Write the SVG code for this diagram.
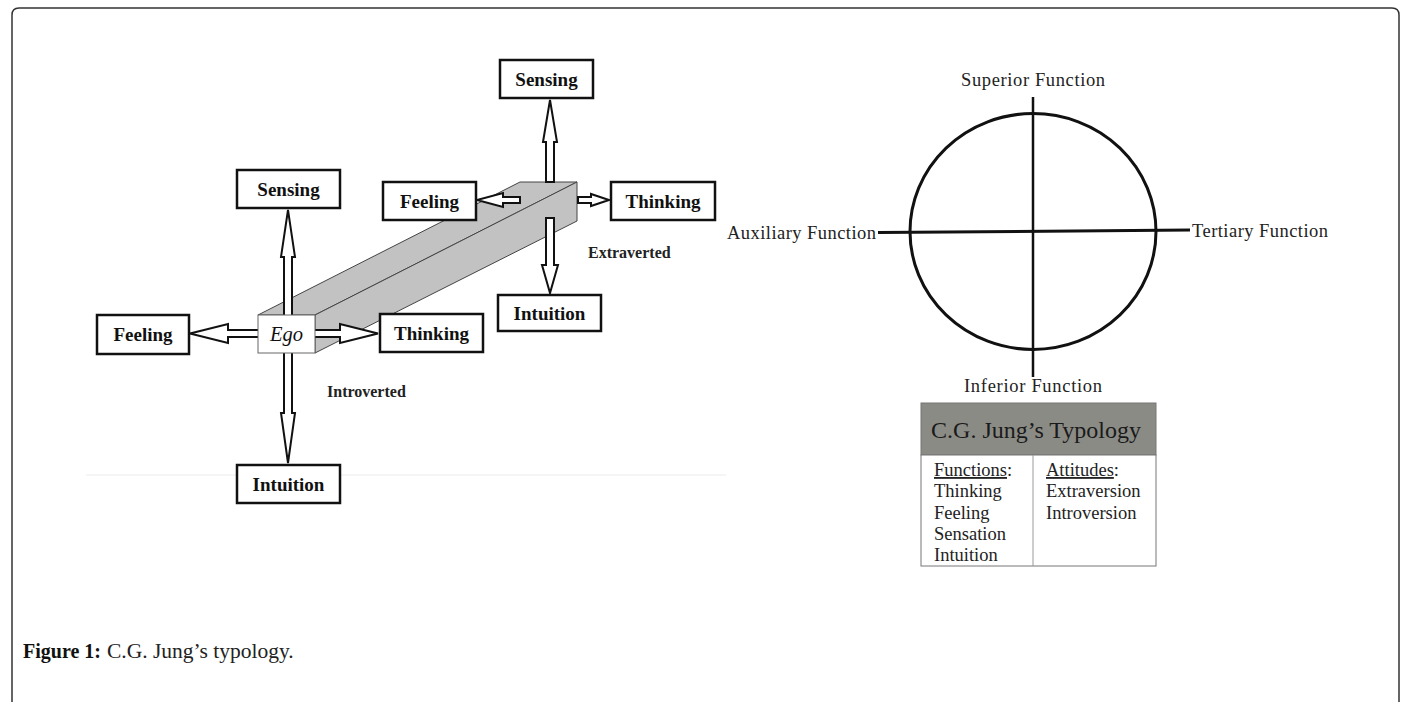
<svg xmlns="http://www.w3.org/2000/svg" width="1405" height="702" viewBox="0 0 1405 702">
<style>
.box{fill:#fff;stroke:#111;stroke-width:2.5}
.lbl{font-family:"Liberation Serif",serif;font-weight:bold;font-size:19px;fill:#111;text-anchor:middle}
.att{font-family:"Liberation Serif",serif;font-weight:bold;font-size:16px;fill:#222}
.arr{fill:#fff;stroke:#111;stroke-width:2;stroke-linejoin:miter}
.face{fill:#c2c2c2;stroke:#444;stroke-width:1}
.rl{font-family:"Liberation Serif",serif;font-size:18.5px;fill:#222}
.tb{font-family:"Liberation Serif",serif;font-size:18.5px;fill:#222}
</style>
<rect width="1405" height="702" fill="#fff"/>
<path d="M12,702 V15 Q12,8 19,8 H1392 Q1399,8 1399,15 V702" fill="none" stroke="#333" stroke-width="1.5"/>
<line x1="86" y1="475" x2="726" y2="475" stroke="#ececec" stroke-width="1"/>

<g id="beam">
<polygon class="face" points="258,315 315,315 577,182 520,182"/>
<polygon class="face" points="315,315 577,182 577,221 315,353"/>
</g>

<g id="connectors">
<polygon class="arr" points="284,318 284,257 281,257 288,210 295,257 292,257 292,318"/>
<polygon class="arr" points="284,350 284,413 281,413 288,463 295,413 292,413 292,350"/>
<polygon class="arr" points="261,330 228,330 228,324 190,333.5 228,343 228,337 261,337"/>
<polygon class="arr" points="312,330 340,330 340,324 378,333.5 340,343 340,337 312,337"/>
<polygon class="arr" points="546,182 546,142 543,142 550,100 557,142 554,142 554,182"/>
<polygon class="arr" points="546,218 546,265 542,265 550,293 558,265 554,265 554,218"/>
<polygon class="arr" points="520,197 503,197 503,193 477,200 503,207 503,203 520,203"/>
<polygon class="arr" points="578,197 591,197 591,194 609,200 591,206 591,203 578,203"/>
</g>

<g id="ego">
<rect x="258" y="315" width="57" height="38" fill="#fff" stroke="#666" stroke-width="1"/>
<text x="286.5" y="341" font-family="Liberation Serif,serif" font-style="italic" font-size="20.5" fill="#111" text-anchor="middle">Ego</text>
</g>
<g id="sensing-introverted"><rect class="box" x="237" y="170" width="103" height="38"/><text class="lbl" x="288.5" y="195.5">Sensing</text></g>
<g id="feeling-introverted"><rect class="box" x="97" y="315" width="92" height="39"/><text class="lbl" x="143" y="341">Feeling</text></g>
<g id="thinking-introverted"><rect class="box" x="380" y="314" width="103" height="38"/><text class="lbl" x="431.5" y="339.5">Thinking</text></g>
<g id="intuition-introverted"><rect class="box" x="237" y="465" width="103" height="38"/><text class="lbl" x="288.5" y="490.5">Intuition</text></g>
<g id="sensing-extraverted"><rect class="box" x="500" y="60" width="93" height="38"/><text class="lbl" x="546.5" y="85.5">Sensing</text></g>
<g id="feeling-extraverted"><rect class="box" x="383" y="182" width="93" height="38"/><text class="lbl" x="429.5" y="207.5">Feeling</text></g>
<g id="thinking-extraverted"><rect class="box" x="611" y="182" width="104" height="38"/><text class="lbl" x="663" y="207.5">Thinking</text></g>
<g id="intuition-extraverted"><rect class="box" x="498" y="295" width="103" height="36"/><text class="lbl" x="549.5" y="319.5">Intuition</text></g>
<g id="labels-attitude">
<text class="att" x="327" y="397">Introverted</text>
<text class="att" x="588" y="258">Extraverted</text>
</g>

<g id="function-circle">
<ellipse cx="1033" cy="231.5" rx="123" ry="118" fill="none" stroke="#111" stroke-width="3"/>
<line x1="1033" y1="97" x2="1033" y2="377" stroke="#111" stroke-width="2.5"/>
<line x1="878" y1="232.5" x2="1190" y2="230" stroke="#111" stroke-width="3"/>
<text class="rl" x="1033" y="85.5" text-anchor="middle" textLength="144">Superior Function</text>
<text class="rl" x="876" y="239" text-anchor="end" textLength="149">Auxiliary Function</text>
<text class="rl" x="1192" y="236.5" textLength="136">Tertiary Function</text>
<text class="rl" x="1033" y="391.5" text-anchor="middle" textLength="138">Inferior Function</text>
</g>

<g id="typology-table">
<rect x="921" y="403" width="235" height="52" fill="#8b8b85" stroke="#777" stroke-width="1"/>
<rect x="921" y="455" width="235" height="111" fill="#fff" stroke="#777" stroke-width="1"/>
<line x1="1033" y1="455" x2="1033" y2="566" stroke="#999" stroke-width="1"/>
<text x="1036" y="438" font-family="Liberation Serif,serif" font-size="24" fill="#1a1a1a" text-anchor="middle">C.G. Jung’s Typology</text>
<text class="tb" x="934" y="476"><tspan text-decoration="underline">Functions</tspan>:</text>
<text class="tb" x="934" y="497">Thinking</text>
<text class="tb" x="934" y="518.5">Feeling</text>
<text class="tb" x="934" y="540">Sensation</text>
<text class="tb" x="934" y="561">Intuition</text>
<text class="tb" x="1046" y="476"><tspan text-decoration="underline">Attitudes</tspan>:</text>
<text class="tb" x="1046" y="497">Extraversion</text>
<text class="tb" x="1046" y="518.5">Introversion</text>
</g>

<g id="caption">
<text x="23" y="658" font-family="Liberation Serif,serif" font-size="20" font-weight="bold" fill="#111">Figure 1:</text>
<text x="107" y="658" font-family="Liberation Serif,serif" font-size="21.5" fill="#222">C.G. Jung’s typology.</text>
</g>
</svg>
